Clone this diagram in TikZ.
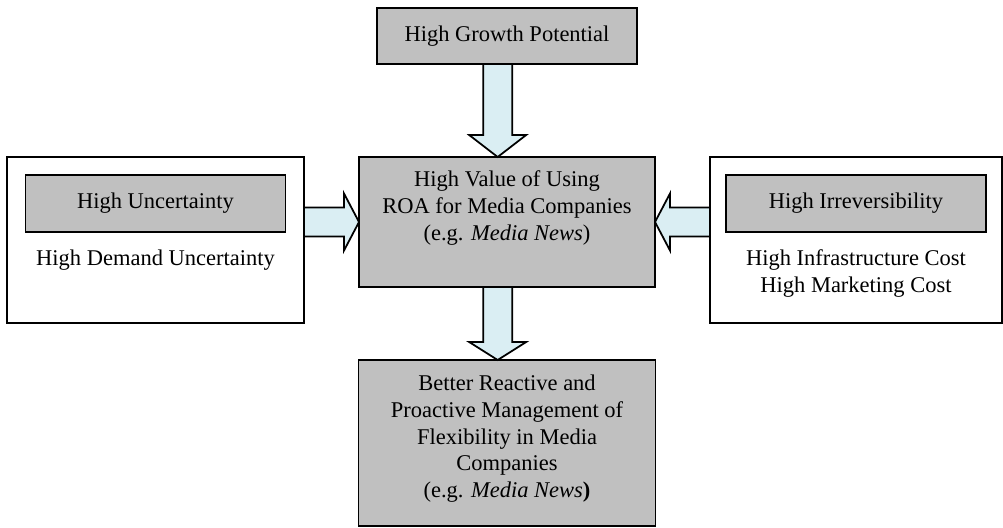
\documentclass[tikz,border=0pt]{standalone}
\usepackage{fontspec}
\setmainfont{Liberation Serif}
\usepackage{tikz}
\usetikzlibrary{positioning, calc}
\definecolor{boxgrey}{HTML}{C0C0C0}
\definecolor{flowblue}{HTML}{DAEEF3}
\tikzset{
	every node/.append style={
		font={\fontsize{19.2}{22.8}\selectfont},
		outer sep=0mm,
	},
	layer/.append style={
		draw,
		line width=1.5pt,
		align = center,
		inner sep=0mm,
	},
	greylayer/.append style={
		layer,
		fill=boxgrey,
	},
	labe/.append style={
		align = center,
		inner sep=0mm,
	},
	flow/.append style={
		draw,
		fill=flowblue,
		line width=1.5pt,
		line join=miter,
	}
}
\newcommand{\flowarrow}[3]{%
	\coordinate (hb) at ($(#2)!#3!(#1)$);
	\draw[flow] ($(#1)!0.435cm!90:(#2)$) -- ($(hb)!0.435cm!90:(#2)$)
		-- ($(hb)!0.855cm!90:(#2)$) -- (#2)
		-- ($(hb)!0.855cm!-90:(#2)$) -- ($(hb)!0.435cm!-90:(#2)$)
		-- ($(#1)!0.435cm!-90:(#2)$) -- cycle;
}

\begin{document}
\begin{tikzpicture}[]
\useasboundingbox (0,0) rectangle (30.09,-15.81);

\node(val)[greylayer, minimum width=8.88cm, minimum height=3.9cm] at (15.21,-6.66){};
\node(valtxt)[labe, below=0.42cm of val.north]{High Value of Using\\ROA for Media Companies\\(e.g. \textit{Media News})};

\node(grow)[greylayer, minimum width=7.8cm, minimum height=1.68cm, above=2.79cm of val]{High Growth Potential};

\node(better)[greylayer, minimum width=8.91cm, minimum height=4.98cm, below=2.19cm of val]{};
\node(bettertxt)[labe, below=0.45cm of better.north]{Better Reactive and\\Proactive Management of\\Flexibility in Media\\Companies\\(e.g. \textit{Media News}\textbf{)}};

\node(unc)[layer, minimum width=8.91cm, minimum height=4.98cm, left=1.65cm of val.north west, anchor=north east]{};
\node(uncin)[greylayer, minimum width=7.8cm, minimum height=1.71cm, below=0.54cm of unc.north]{High Uncertainty};
\node(unctxt)[labe, below=0.54cm of uncin.south]{High Demand Uncertainty};

\node(irr)[layer, minimum width=8.76cm, minimum height=4.98cm, right=1.65cm of val.north east, anchor=north west]{};
\node(irrin)[greylayer, minimum width=7.8cm, minimum height=1.71cm, below=0.54cm of irr.north]{High Irreversibility};
\node(irrtxt)[labe, below=0.54cm of irrin.south]{High Infrastructure Cost\\High Marketing Cost};

\coordinate(g1) at ([xshift=-2.8mm]grow.south);
\coordinate(g2) at ([xshift=-2.8mm]val.north);
\flowarrow{g1}{g2}{0.66cm}

\coordinate(u1) at (unc.east |- val.west);
\flowarrow{u1}{val.west}{0.45cm}

\coordinate(i1) at (irr.west |- val.east);
\flowarrow{i1}{val.east}{0.45cm}

\coordinate(b1) at ([xshift=-2.8mm]val.south);
\coordinate(b2) at ([xshift=-2.8mm]better.north);
\flowarrow{b1}{b2}{0.54cm}

\end{tikzpicture}
\end{document}
